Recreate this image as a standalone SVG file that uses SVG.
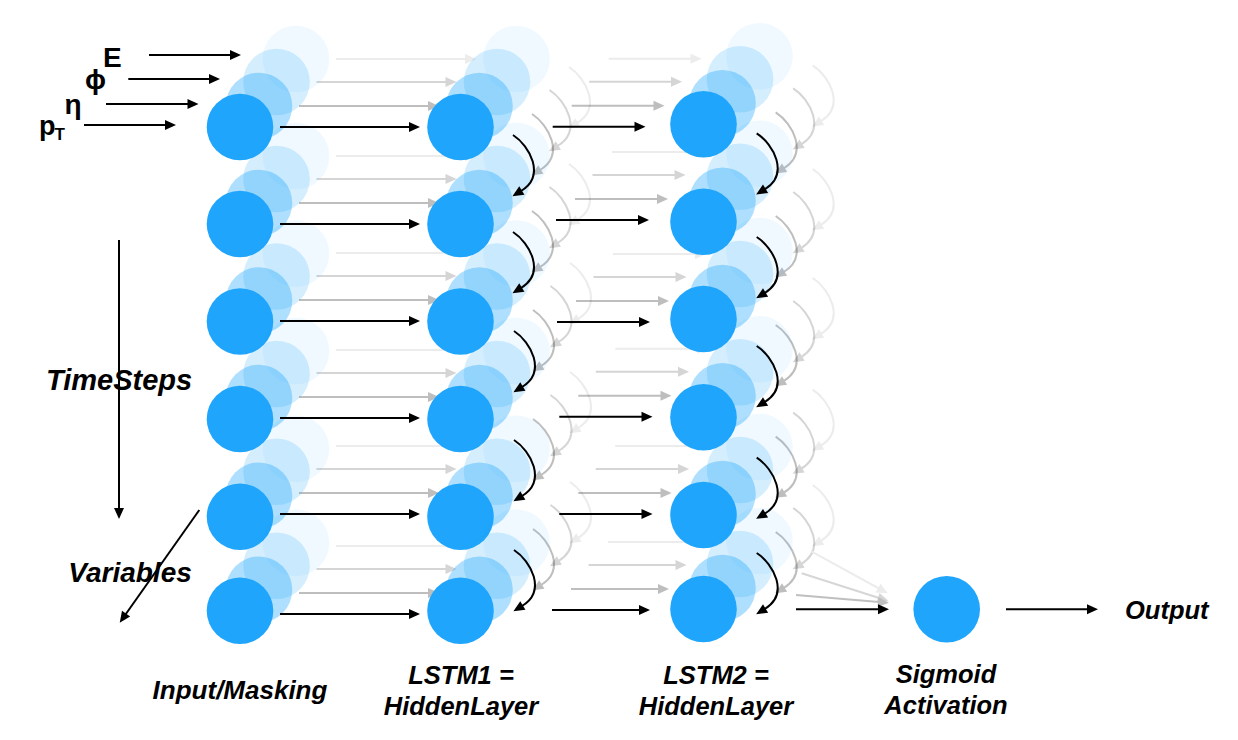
<svg xmlns="http://www.w3.org/2000/svg" xmlns:xlink="http://www.w3.org/1999/xlink" width="1238" height="740" viewBox="0 0 1238 740">
<style>
.f{fill:#1FA5FB}
.d1{fill:#1FA5FB;fill-opacity:0.36}
.d2{fill:#1FA5FB;fill-opacity:0.19}
.d3{fill:#1FA5FB;fill-opacity:0.07}
.ln{fill:none;stroke:#000;stroke-width:2;marker-end:url(#ah)}
.lbl{font-family:"Liberation Sans",Arial,sans-serif;font-weight:bold;font-style:italic;fill:#000}
.gk{font-family:"Liberation Sans","DejaVu Sans",Arial,sans-serif;font-weight:bold;fill:#000}
</style>
<defs>
<marker id="ah" markerUnits="userSpaceOnUse" markerWidth="12" markerHeight="11" refX="1" refY="5" orient="auto" overflow="visible"><path d="M0,0 L11,5 L0,10 Z" fill="#000"/></marker>
<marker id="ahg2" markerUnits="userSpaceOnUse" markerWidth="12" markerHeight="11" refX="1" refY="5" orient="auto" overflow="visible"><path d="M0,0 L11,5 L0,10 Z" fill="#bfbfbf"/></marker>
<marker id="ahg3" markerUnits="userSpaceOnUse" markerWidth="12" markerHeight="11" refX="1" refY="5" orient="auto" overflow="visible"><path d="M0,0 L11,5 L0,10 Z" fill="#d6d6d6"/></marker>
<marker id="ahg4" markerUnits="userSpaceOnUse" markerWidth="12" markerHeight="11" refX="1" refY="5" orient="auto" overflow="visible"><path d="M0,0 L11,5 L0,10 Z" fill="#ececec"/></marker>
</defs>
<rect width="1238" height="740" fill="#fff"/>

<g id="depth-connectors">
<use href="#flow" xlink:href="#flow" transform="translate(56,-68)" opacity="0.07"/>
<use href="#flow" xlink:href="#flow" transform="translate(36.5,-45)" opacity="0.16"/>
<use href="#flow" xlink:href="#flow" transform="translate(19,-21)" opacity="0.25"/>
<path d="M811.7,551.7 L879,588.5" fill="none" stroke="#ececec" stroke-width="2" marker-end="url(#ahg4)"/>
<path d="M801.7,573.3 L879,598" fill="none" stroke="#d6d6d6" stroke-width="2" marker-end="url(#ahg3)"/>
<path d="M796,595 L879,602" fill="none" stroke="#bfbfbf" stroke-width="2" marker-end="url(#ahg2)"/>
</g>

<g id="in1"><circle class="d3" cx="296" cy="59" r="33.3"/><circle class="d2" cx="276.5" cy="82" r="33.3"/><circle class="d1" cx="259" cy="106" r="33.3"/><circle class="f" cx="240" cy="127" r="33.3"/></g>
<g id="in2"><circle class="d3" cx="296" cy="156" r="33.3"/><circle class="d2" cx="276.5" cy="179" r="33.3"/><circle class="d1" cx="259" cy="203" r="33.3"/><circle class="f" cx="240" cy="224" r="33.3"/></g>
<g id="in3"><circle class="d3" cx="296" cy="253.5" r="33.3"/><circle class="d2" cx="276.5" cy="276.5" r="33.3"/><circle class="d1" cx="259" cy="300.5" r="33.3"/><circle class="f" cx="240" cy="321.5" r="33.3"/></g>
<g id="in4"><circle class="d3" cx="296" cy="351" r="33.3"/><circle class="d2" cx="276.5" cy="374" r="33.3"/><circle class="d1" cx="259" cy="398" r="33.3"/><circle class="f" cx="240" cy="419" r="33.3"/></g>
<g id="in5"><circle class="d3" cx="296" cy="448.7" r="33.3"/><circle class="d2" cx="276.5" cy="471.7" r="33.3"/><circle class="d1" cx="259" cy="495.7" r="33.3"/><circle class="f" cx="240" cy="516.7" r="33.3"/></g>
<g id="in6"><circle class="d3" cx="296" cy="542.7" r="33.3"/><circle class="d2" cx="276.5" cy="565.7" r="33.3"/><circle class="d1" cx="259" cy="589.7" r="33.3"/><circle class="f" cx="240" cy="610.7" r="33.3"/></g>

<g id="h1-1"><circle class="d3" cx="516.5" cy="59" r="33.3"/><circle class="d2" cx="497" cy="82" r="33.3"/><circle class="d1" cx="479.5" cy="106" r="33.3"/><circle class="f" cx="460.5" cy="127" r="33.3"/></g>
<g id="h1-2"><circle class="d3" cx="516.5" cy="156" r="33.3"/><circle class="d2" cx="497" cy="179" r="33.3"/><circle class="d1" cx="479.5" cy="203" r="33.3"/><circle class="f" cx="460.5" cy="224" r="33.3"/></g>
<g id="h1-3"><circle class="d3" cx="516.5" cy="253.5" r="33.3"/><circle class="d2" cx="497" cy="276.5" r="33.3"/><circle class="d1" cx="479.5" cy="300.5" r="33.3"/><circle class="f" cx="460.5" cy="321.5" r="33.3"/></g>
<g id="h1-4"><circle class="d3" cx="516.5" cy="351" r="33.3"/><circle class="d2" cx="497" cy="374" r="33.3"/><circle class="d1" cx="479.5" cy="398" r="33.3"/><circle class="f" cx="460.5" cy="419" r="33.3"/></g>
<g id="h1-5"><circle class="d3" cx="516.5" cy="448.7" r="33.3"/><circle class="d2" cx="497" cy="471.7" r="33.3"/><circle class="d1" cx="479.5" cy="495.7" r="33.3"/><circle class="f" cx="460.5" cy="516.7" r="33.3"/></g>
<g id="h1-6"><circle class="d3" cx="516.5" cy="542.7" r="33.3"/><circle class="d2" cx="497" cy="565.7" r="33.3"/><circle class="d1" cx="479.5" cy="589.7" r="33.3"/><circle class="f" cx="460.5" cy="610.7" r="33.3"/></g>

<g id="h2-1"><circle class="d3" cx="759.5" cy="56.3" r="33.3"/><circle class="d2" cx="740" cy="79.3" r="33.3"/><circle class="d1" cx="722.5" cy="103.3" r="33.3"/><circle class="f" cx="703.5" cy="124.3" r="33.3"/></g>
<g id="h2-2"><circle class="d3" cx="759.5" cy="153.7" r="33.3"/><circle class="d2" cx="740" cy="176.7" r="33.3"/><circle class="d1" cx="722.5" cy="200.7" r="33.3"/><circle class="f" cx="703.5" cy="221.7" r="33.3"/></g>
<g id="h2-3"><circle class="d3" cx="759.5" cy="251" r="33.3"/><circle class="d2" cx="740" cy="274" r="33.3"/><circle class="d1" cx="722.5" cy="298" r="33.3"/><circle class="f" cx="703.5" cy="319" r="33.3"/></g>
<g id="h2-4"><circle class="d3" cx="759.5" cy="349.3" r="33.3"/><circle class="d2" cx="740" cy="372.3" r="33.3"/><circle class="d1" cx="722.5" cy="396.3" r="33.3"/><circle class="f" cx="703.5" cy="417.3" r="33.3"/></g>
<g id="h2-5"><circle class="d3" cx="759.5" cy="447" r="33.3"/><circle class="d2" cx="740" cy="470" r="33.3"/><circle class="d1" cx="722.5" cy="494" r="33.3"/><circle class="f" cx="703.5" cy="515" r="33.3"/></g>
<g id="h2-6"><circle class="d3" cx="759.5" cy="541" r="33.3"/><circle class="d2" cx="740" cy="564" r="33.3"/><circle class="d1" cx="722.5" cy="588" r="33.3"/><circle class="f" cx="703.5" cy="609" r="33.3"/></g>

<g id="sigmoid"><circle class="f" cx="946.7" cy="609.3" r="33.3"/></g>

<g id="connectors">
<g id="flow">
<path class="ln" d="M280,127 H410"/>
<path class="ln" d="M280,224 H410"/>
<path class="ln" d="M280,321 H410"/>
<path class="ln" d="M280,418 H410"/>
<path class="ln" d="M280,514 H410"/>
<path class="ln" d="M280,614 H410"/>
<path class="ln" d="M552.7,126.7 H635.5"/>
<path class="ln" d="M556,220 H639"/>
<path class="ln" d="M557,322 H640"/>
<path class="ln" d="M559.3,416.7 H642.5"/>
<path class="ln" d="M559.3,514 H642.5"/>
<path class="ln" d="M552,610 H640"/>
<path class="ln" d="M513,135 c17,11 33,41 8,56"/>
<path class="ln" d="M513,232 c17,11 33,41 8,56"/>
<path class="ln" d="M514,331 c17,11 33,41 8,56"/>
<path class="ln" d="M514,440 c17,11 33,41 8,56"/>
<path class="ln" d="M514,550 c17,11 33,41 8,56"/>
<path class="ln" d="M756.7,133.3 c17,11 33,41 8,56"/>
<path class="ln" d="M756.7,237 c17,11 33,41 8,56"/>
<path class="ln" d="M756.7,346 c17,11 33,41 8,56"/>
<path class="ln" d="M756.7,457.7 c17,11 33,41 8,56"/>
<path class="ln" d="M756.7,553 c17,11 33,41 8,56"/>
</g>
<path class="ln" d="M84,125 H166"/>
<path class="ln" d="M106,104 H188.5"/>
<path class="ln" d="M128.3,79 H210"/>
<path class="ln" d="M149,55 H231"/>
<path class="ln" d="M796,609.3 H879"/>
<path class="ln" d="M1006,609.3 H1088"/>
<path class="ln" d="M119,240 V509"/>
<path class="ln" d="M199.3,510 L125.5,614.5"/>
</g>

<g id="labels">
<text class="gk" x="39" y="135" font-size="27">p</text>
<text class="gk" x="54.5" y="139.5" font-size="17">T</text>
<text class="gk" x="64.5" y="113.5" font-size="28">η</text>
<text class="gk" x="85" y="88.7" font-size="28">ϕ</text>
<text class="gk" x="103" y="66.7" font-size="28">E</text>
<text class="lbl" x="46" y="390" font-size="29">TimeSteps</text>
<text class="lbl" x="68.3" y="581.7" font-size="28">Variables</text>
<text class="lbl" x="1125" y="619" font-size="25.5">Output</text>
<text class="lbl" x="240" y="699" font-size="26" text-anchor="middle">Input/Masking</text>
<text class="lbl" x="461" y="684" font-size="25.5" text-anchor="middle">LSTM1 =</text>
<text class="lbl" x="461" y="715" font-size="25.5" text-anchor="middle">HiddenLayer</text>
<text class="lbl" x="716" y="684" font-size="25.5" text-anchor="middle">LSTM2 =</text>
<text class="lbl" x="716" y="715" font-size="25.5" text-anchor="middle">HiddenLayer</text>
<text class="lbl" x="946" y="683" font-size="25.5" text-anchor="middle">Sigmoid</text>
<text class="lbl" x="946" y="714" font-size="25.5" text-anchor="middle">Activation</text>
</g>
</svg>
